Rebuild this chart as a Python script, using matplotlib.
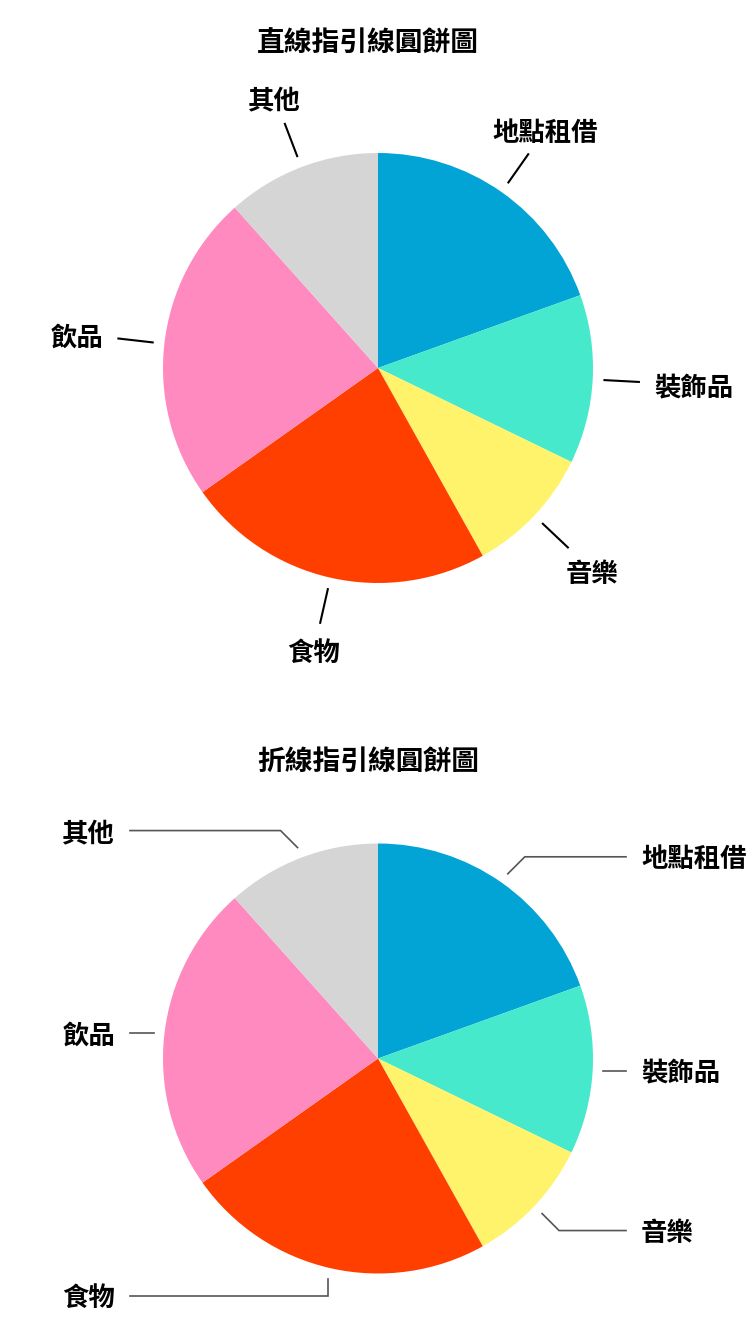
import numpy as np
import matplotlib
matplotlib.use("Agg")
import matplotlib.pyplot as plt

plt.rcParams['font.family'] = ['Noto Sans CJK TC', 'DejaVu Sans']

# data (share of budget, clockwise from 12 o'clock)
categories = ['地點租借', '裝飾品', '音樂', '食物', '飲品', '其他']
shares = [19.5, 12.7, 9.7, 23.3, 23.2, 11.6]
colors = ['#02A4D6', '#46E9CB', '#FFF36B', '#FF3F00', '#FF8ABF', '#D5D5D5']
titles = ['直線指引線圓餅圖', '折線指引線圓餅圖']

W, H = 753, 1327
R = 215


def py(y):
    # pixel row (from the top) -> data y (upwards)
    return H - y


fig = plt.figure(figsize=(W / 100, H / 100), dpi=100)
ax = fig.add_axes([0, 0, 1, 1])


def draw_pie(cx, cy):
    wedges, _ = ax.pie(shares, colors=colors, startangle=90, counterclock=False,
                       radius=R, center=(cx, py(cy)),
                       wedgeprops=dict(linewidth=0))
    return wedges


def mid_dir(w):
    a = np.deg2rad((w.theta1 + w.theta2) / 2)
    return np.array([np.cos(a), np.sin(a)])


# --- chart 1: straight leader lines
cx, cy = 378, 368
wedges = draw_pie(cx, cy)
ax.text(368, py(42.5), titles[0], ha='center', va='center',
        fontsize=20, fontweight='bold')
for w, lab in zip(wedges, categories):
    d = mid_dir(w)
    c = np.array(w.center)
    p0 = c + 1.05 * R * d
    p1 = c + 1.22 * R * d
    ax.plot([p0[0], p1[0]], [p0[1], p1[1]], color='black', lw=1.5,
            solid_capstyle='butt')
    tw, th = 26.5 * len(lab), 25
    ext = min(tw / 2 / max(abs(d[0]), 1e-6), th / 2 / max(abs(d[1]), 1e-6))
    pt = p1 + d * (14 + ext)
    ax.text(pt[0], pt[1] - 4, lab, ha='center', va='center',
            fontsize=19, fontweight='bold')

# --- chart 2: elbow leader lines
cx, cy = 378, 1058.5
wedges = draw_pie(cx, cy)
ax.text(368, py(761.5), titles[1], ha='center', va='center',
        fontsize=20, fontweight='bold')
for w, lab in zip(wedges, categories):
    d = mid_dir(w)
    c = np.array(w.center)
    p0 = c + 1.05 * R * d
    side = 1 if d[0] > 0 else -1
    dy = 17 * np.sign(d[1]) if abs(d[1]) > 0.5 else 0
    if abs(d[0]) < 0.3:
        elbow = (p0[0], p0[1] + dy)
    else:
        elbow = (p0[0] + side * abs(dy), p0[1] + dy)
    xend = cx + side * 248
    ax.plot([p0[0], elbow[0], xend], [p0[1], elbow[1], elbow[1]],
            color='#555555', lw=1.2, solid_joinstyle='miter')
    ax.text(xend + side * 15, elbow[1] - 3, lab,
            ha='left' if side > 0 else 'right', va='center',
            fontsize=19, fontweight='bold')

ax.set_xlim(0, W)
ax.set_ylim(0, H)
ax.set_aspect('equal')
ax.axis('off')

fig.savefig('out.png', dpi=100)
